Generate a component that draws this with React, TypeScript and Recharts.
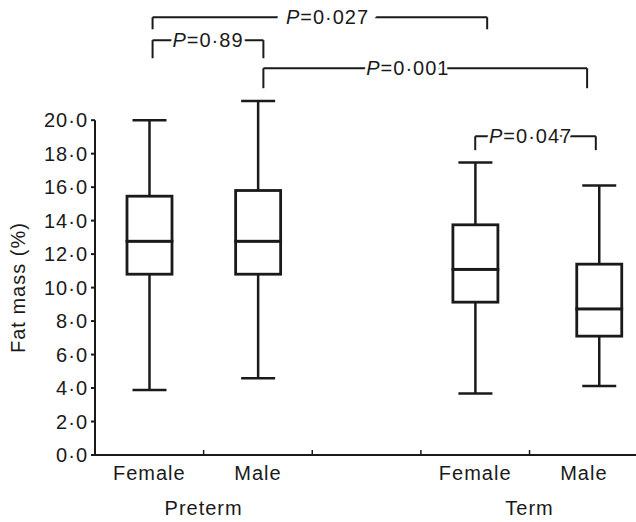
import React from "react";
import { Bar, ComposedChart, ReferenceLine, XAxis, YAxis } from "recharts";

const INK = "#1a1a1a";

// box positions along the x axis (axis units, one slot = 1)
const boxX = [0.5, 1.5, 3.5, 4.64];
const mins = [3.88, 4.58, 3.68, 4.12];
const q1s = [10.8, 10.8, 9.13, 7.1];
const medians = [12.77, 12.77, 11.09, 8.73];
const q3s = [15.46, 15.8, 13.75, 11.4];
const maxs = [20.0, 21.15, 17.47, 16.1];

// x-axis labels and slot dividers
const catTicks = [0.5, 1.5, 3.5, 4.5];
const catNames = ["Female", "Male", "Female", "Male"];
const groupTicks = [1, 4];
const groupNames = ["Preterm", "Term"];
const dividerTicks = [1, 2, 3, 4];

const yTicks = [0, 2, 4, 6, 8, 10, 12, 14, 16, 18, 20];

// significance brackets
const pValues = ["0·027", "0·89", "0·001", "0·047"];
const bracketLeft = [0.53, 0.53, 1.55, 3.5];
const bracketRight = [3.61, 1.55, 4.53, 4.61];
const bracketTop = [26.15, 24.78, 23.1, 19.04];
const bracketFoot = [25.43, 23.7, 21.91, 18.21];
const pLabelX = [2.14, 1.04, 2.88, 4.01];
const pGap = [10, 3, 3, 3];

const rows = boxX.map((x, i) => ({
  x,
  base: mins[i],
  lower: q1s[i] - mins[i],
  boxLow: medians[i] - q1s[i],
  boxHigh: q3s[i] - medians[i],
  upper: maxs[i] - q3s[i],
}));

const xTicks = Array.from(new Set([...catTicks, ...dividerTicks])).sort((a, b) => a - b);

const fmt = (v: number) => v.toFixed(1).replace(".", "·");

function Whisker(props: any) {
  const { x, y, width, height, end } = props;
  const cx = x + width / 2;
  const capY = end === "bottom" ? y + height : y;
  return (
    <g stroke={INK} strokeWidth={2.5}>
      <line x1={cx} x2={cx} y1={y} y2={y + height} />
      <line x1={cx - 17} x2={cx + 17} y1={capY} y2={capY} />
    </g>
  );
}

function BoxPart(props: any) {
  const { x, y, width, height } = props;
  return <rect x={x} y={y} width={width} height={height} fill="#fff" stroke={INK} strokeWidth={2.8} />;
}

function XTick(props: any) {
  const { x, y, payload } = props;
  const v = payload.value;
  const gi = groupTicks.indexOf(v);
  const ci = catTicks.indexOf(v);
  return (
    <g>
      {dividerTicks.includes(v) && <line x1={x} x2={x} y1={y} y2={y - 5} stroke={INK} strokeWidth={1.5} />}
      {gi >= 0 && (
        <text x={x} y={y + 53} textAnchor="middle" dominantBaseline="central" fill={INK} fontSize={20}>
          {groupNames[gi]}
        </text>
      )}
      {ci >= 0 && (
        <text x={x} y={y + 18} textAnchor="middle" dominantBaseline="central" fill={INK} fontSize={20}>
          {catNames[ci]}
        </text>
      )}
    </g>
  );
}

const yLabel = (p: any) => {
  const vb = p.viewBox;
  const cx = vb.x - 77;
  const cy = vb.y + vb.height / 2;
  return (
    <text x={cx} y={cy} transform={`rotate(-90, ${cx}, ${cy})`} textAnchor="middle" dominantBaseline="central" fill={INK} fontSize={20}>
      Fat mass (%)
    </text>
  );
};

const pLabel = (i: number) => (p: any) => {
  const vb = p.viewBox;
  const t = (pLabelX[i] - bracketLeft[i]) / (bracketRight[i] - bracketLeft[i]);
  const cx = vb.x + vb.width * t;
  const common = { x: cx, y: vb.y, textAnchor: "middle" as const, dominantBaseline: "central" as const, fontSize: 20 };
  const body = [
    <tspan key="p" fontStyle="italic">P</tspan>,
    <tspan key="v">={pValues[i]}</tspan>,
  ];
  return (
    <g>
      <text {...common} fill="#fff" stroke="#fff" strokeWidth={pGap[i] * 2} strokeLinejoin="round">
        {body}
      </text>
      <text {...common} fill={INK}>
        {body}
      </text>
    </g>
  );
};

export default function App() {
  return (
    <div
      style={{
        position: "absolute",
        left: 0,
        top: 0,
        width: 636,
        height: 522,
        background: "#fff",
        fontFamily: '"Liberation Sans", Arial, sans-serif',
        letterSpacing: "1px",
      }}
    >
      <ComposedChart width={636} height={522} data={rows} margin={{ top: 3, right: 0, bottom: 0, left: 0 }}>
        <XAxis
          xAxisId="n"
          type="number"
          dataKey="x"
          domain={[0, 4.98]}
          ticks={xTicks}
          interval={0}
          height={67}
          axisLine={{ stroke: INK, strokeWidth: 2 }}
          tickLine={false}
          tickSize={0}
          tickMargin={0}
          tick={<XTick />}
          allowDataOverflow
        />
        <YAxis
          type="number"
          domain={[0, 27]}
          ticks={yTicks}
          interval={0}
          width={95}
          axisLine={false}
          tickSize={4}
          tickMargin={3}
          tickLine={{ stroke: INK, strokeWidth: 2 }}
          tick={{ fill: INK, fontSize: 20 }}
          tickFormatter={fmt}
          allowDataOverflow
        />

        <Bar xAxisId="n" dataKey="base" stackId="b" barSize={45} fill="none" isAnimationActive={false} shape={() => <g />} />
        <Bar xAxisId="n" dataKey="lower" stackId="b" barSize={45} isAnimationActive={false} shape={(p: any) => <Whisker {...p} end="bottom" />} />
        <Bar xAxisId="n" dataKey="boxLow" stackId="b" barSize={45} isAnimationActive={false} shape={(p: any) => <BoxPart {...p} />} />
        <Bar xAxisId="n" dataKey="boxHigh" stackId="b" barSize={45} isAnimationActive={false} shape={(p: any) => <BoxPart {...p} />} />
        <Bar xAxisId="n" dataKey="upper" stackId="b" barSize={45} isAnimationActive={false} shape={(p: any) => <Whisker {...p} end="top" />} />

        {/* y axis line only spans 0-20 */}
        <ReferenceLine
          xAxisId="n"
          segment={[{ x: 0, y: 0 }, { x: 0, y: 20 }]}
          stroke={INK}
          strokeWidth={2}
          ifOverflow="visible"
          label={yLabel}
        />

        {pValues.map((v, i) => (
          <React.Fragment key={v}>
            <ReferenceLine
              xAxisId="n"
              segment={[{ x: bracketLeft[i], y: bracketFoot[i] }, { x: bracketLeft[i], y: bracketTop[i] }]}
              stroke={INK}
              strokeWidth={2}
              ifOverflow="visible"
            />
            <ReferenceLine
              xAxisId="n"
              segment={[{ x: bracketRight[i], y: bracketFoot[i] }, { x: bracketRight[i], y: bracketTop[i] }]}
              stroke={INK}
              strokeWidth={2}
              ifOverflow="visible"
            />
            <ReferenceLine
              xAxisId="n"
              segment={[{ x: bracketLeft[i], y: bracketTop[i] }, { x: bracketRight[i], y: bracketTop[i] }]}
              stroke={INK}
              strokeWidth={2}
              ifOverflow="visible"
              label={pLabel(i)}
            />
          </React.Fragment>
        ))}
      </ComposedChart>
    </div>
  );
}
